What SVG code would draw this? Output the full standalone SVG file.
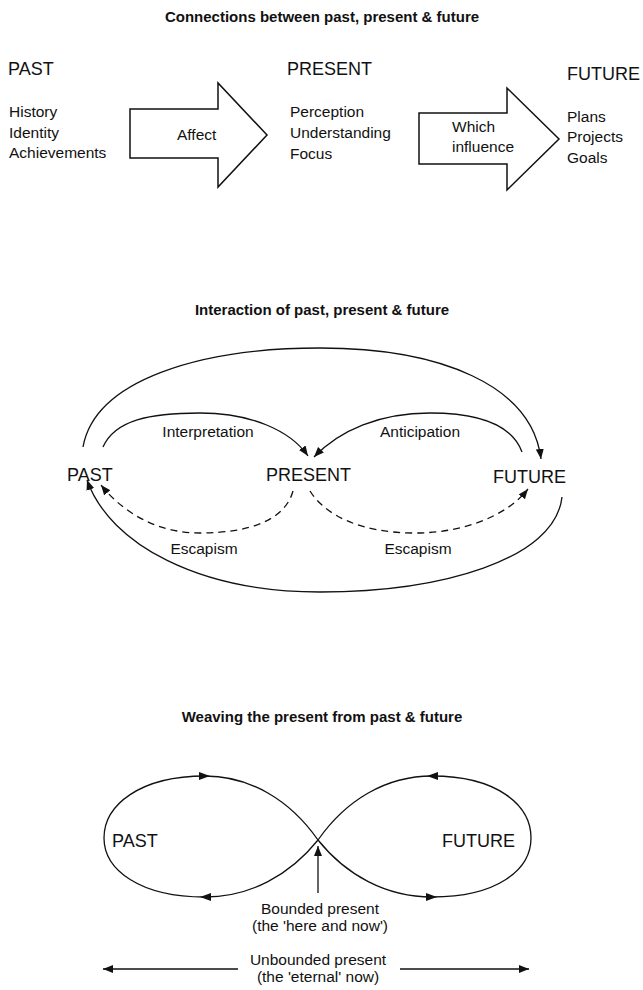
<svg xmlns="http://www.w3.org/2000/svg" xmlns:xlink="http://www.w3.org/1999/xlink" width="643" height="990" viewBox="0 0 643 990">
<style>
text{font-family:"Liberation Sans",Arial,sans-serif;fill:#111}
.t{font-size:15px;font-weight:bold}
.h{font-size:18px}
.b{font-size:15.5px}
.c{text-anchor:middle}
.ln{fill:none;stroke:#111;stroke-width:1.3}
.d{stroke-dasharray:7 5}
.blk{fill:#fff;stroke:#111;stroke-width:1.5;stroke-linejoin:miter}
</style>
<defs>
<marker id="m" markerUnits="userSpaceOnUse" markerWidth="12" markerHeight="10" refX="10" refY="4" orient="auto"><path d="M0,0 L10,4 L0,8 z" fill="#111"/></marker>
<path id="ah" d="M0,0 L-11,-4 L-11,4 z" fill="#111"/>
</defs>
<rect width="643" height="990" fill="#fff"/>

<g id="section1">
<text class="t c" x="322" y="22">Connections between past, present &amp; future</text>
<g id="past1"><text class="h" x="8" y="75">PAST</text>
<text class="b" x="9" y="117">History</text><text class="b" x="9" y="138">Identity</text><text class="b" x="9" y="158">Achievements</text></g>
<g id="present1"><text class="h" x="287" y="75">PRESENT</text>
<text class="b" x="290" y="117">Perception</text><text class="b" x="290" y="138">Understanding</text><text class="b" x="290" y="159">Focus</text></g>
<g id="future1"><text class="h" x="567" y="80">FUTURE</text>
<text class="b" x="567" y="122">Plans</text><text class="b" x="567" y="142">Projects</text><text class="b" x="567" y="163">Goals</text></g>
<g id="affect"><polygon class="blk" points="130,109 218,109 218,83 267,135 218,187 218,158 130,158"/>
<text class="b" x="177" y="140">Affect</text></g>
<g id="influence"><polygon class="blk" points="419,113 507,113 507,88 559,139 507,190 507,164 419,164"/>
<text class="b" x="452" y="132">Which</text><text class="b" x="452" y="152">influence</text></g>
</g>

<g id="section2">
<text class="t c" x="322" y="315">Interaction of past, present &amp; future</text>
<g id="past2"><text class="h" x="67" y="481">PAST</text></g>
<g id="present2"><text class="h" x="266" y="481">PRESENT</text></g>
<g id="future2"><text class="h" x="493" y="483">FUTURE</text></g>
<g id="connectors2">
<path class="ln" marker-end="url(#m)" d="M83,447 C95,380 200,348 320,348 C440,348 532,385 541,459"/>
<path class="ln" marker-end="url(#m)" d="M562,497 C555,560 440,592 320,592 C200,592 110,545 87,480"/>
<path class="ln" marker-end="url(#m)" d="M103,447 C115,420 150,413 200,413 C250,413 290,430 308,456"/>
<path class="ln" marker-end="url(#m)" d="M522,452 C512,425 480,413 430,413 C380,413 340,430 314,457"/>
<path class="ln d" marker-end="url(#m)" d="M293,491 C285,520 250,533 200,533 C160,533 125,515 101,485"/>
<path class="ln d" marker-end="url(#m)" d="M310,491 C325,515 360,533 415,533 C460,533 505,518 528,489"/>
</g>
<text class="b c" x="208" y="437">Interpretation</text>
<text class="b c" x="420" y="437">Anticipation</text>
<text class="b c" x="204" y="554">Escapism</text>
<text class="b c" x="418" y="554">Escapism</text>
</g>

<g id="section3">
<text class="t c" x="322" y="722">Weaving the present from past &amp; future</text>
<g id="past3"><text class="h" x="112" y="847">PAST</text></g>
<g id="future3"><text class="h" x="442" y="847">FUTURE</text></g>
<g id="connectors3">
<path class="ln" d="M318,840 C290,800 250,776 205,776 C140,776 104,805 104,838 C104,870 140,897 205,897 C250,897 290,875 318,840"/>
<path class="ln" d="M318,840 C346,800 386,776 432,776 C497,776 531,805 531,838 C531,870 497,897 432,897 C386,897 346,875 318,840"/>
<use xlink:href="#ah" transform="translate(210,776)"/>
<use xlink:href="#ah" transform="translate(200,897) rotate(180)"/>
<use xlink:href="#ah" transform="translate(427,776) rotate(180)"/>
<use xlink:href="#ah" transform="translate(437,897)"/>
<path class="ln" marker-end="url(#m)" d="M318,893 L318,846"/>
<path class="ln" marker-end="url(#m)" d="M238,969 L103,969"/>
<path class="ln" marker-end="url(#m)" d="M400,969 L529,969"/>
</g>
<text class="b c" x="320" y="914">Bounded present</text>
<text class="b c" x="320" y="931">(the 'here and now')</text>
<text class="b c" x="318" y="965">Unbounded present</text>
<text class="b c" x="318" y="982">(the 'eternal' now)</text>
</g>
</svg>
